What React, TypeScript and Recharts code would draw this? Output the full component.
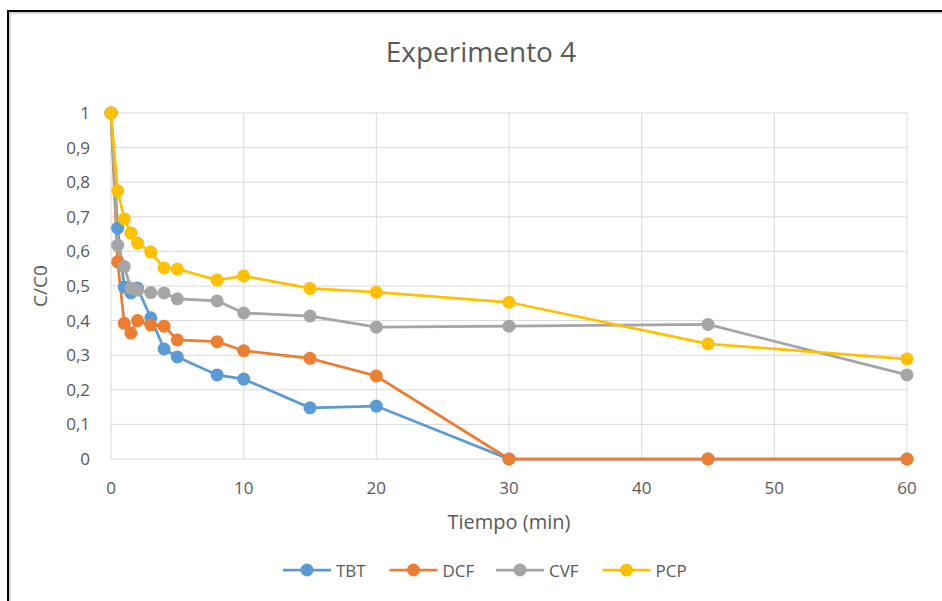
import React from 'react';
import { LineChart, Line, XAxis, YAxis, CartesianGrid } from 'recharts';

const times = [0, 0.5, 1, 1.5, 2, 3, 4, 5, 8, 10, 15, 20, 30, 45, 60];
const tbt = [1, 0.667, 0.497, 0.48, 0.494, 0.408, 0.318, 0.295, 0.243, 0.231, 0.148, 0.153, 0, 0, 0];
const dcf = [1, 0.57, 0.392, 0.364, 0.4, 0.387, 0.384, 0.344, 0.339, 0.313, 0.291, 0.24, 0, 0, 0];
const cvf = [1, 0.618, 0.556, 0.494, 0.488, 0.481, 0.48, 0.463, 0.457, 0.422, 0.413, 0.381, 0.384, 0.389, 0.243];
const pcp = [1, 0.775, 0.694, 0.653, 0.624, 0.598, 0.552, 0.549, 0.517, 0.529, 0.493, 0.482, 0.453, 0.333, 0.289];

const seriesNames = ['TBT', 'DCF', 'CVF', 'PCP'];
const seriesColors = ['#5B9BD5', '#ED7D31', '#A5A5A5', '#FFC000'];
const seriesValues = [tbt, dcf, cvf, pcp];

const xTicks = [0, 10, 20, 30, 40, 50, 60];
const yTicks = [0, 0.1, 0.2, 0.3, 0.4, 0.5, 0.6, 0.7, 0.8, 0.9, 1];

const titleText = 'Experimento 4';
const xLabel = 'Tiempo (min)';
const yLabel = 'C/C0';

const data = times.map((t, i) => {
  const row: Record<string, number> = { t };
  seriesNames.forEach((n, k) => {
    row[n] = seriesValues[k][i];
  });
  return row;
});

const FONT = '"Open Sans", "DejaVu Sans", sans-serif';
const TEXT = '#595959';

const fmtY = (v: number) => String(Math.round(v * 10) / 10).replace('.', ',');

export default function App() {
  return (
    <div style={{ position: 'fixed', left: 0, top: 0, width: 942, height: 601, overflow: 'hidden', background: '#fff', fontFamily: FONT }}>
      <div
        style={{
          position: 'absolute',
          left: 7,
          top: 10,
          width: 960,
          height: 620,
          borderLeft: '2px solid #000',
          borderTop: '2px solid #000',
          boxShadow: 'inset 2px 2px 0 #d6d6d6',
        }}
      />
      <div style={{ position: 'absolute', left: 0, top: 0 }}>
        <LineChart
          width={942}
          height={601}
          data={data}
          margin={{ top: 113, right: 35, bottom: 112, left: 41 }}
          style={{ fontFamily: FONT }}
        >
          <CartesianGrid stroke="#D9D9D9" strokeWidth={1} />
          <XAxis
            dataKey="t"
            type="number"
            domain={[0, 60]}
            ticks={xTicks}
            interval={0}
            height={30}
            tickLine={false}
            tickSize={0}
            tickMargin={23}
            axisLine={false}
            tick={{ fill: TEXT, fontSize: 17, fontFamily: FONT }}
            label={{ value: xLabel, position: 'bottom', offset: 26, fill: TEXT, fontSize: 20, fontFamily: FONT }}
          />
          <YAxis
            type="number"
            domain={[0, 1]}
            ticks={yTicks}
            interval={0}
            width={70}
            tickLine={false}
            axisLine={false}
            tickSize={0}
            tickMargin={21}
            tickFormatter={fmtY}
            tick={{ fill: TEXT, fontSize: 17, fontFamily: FONT }}
            label={{
              content: (p: any) => {
                const vb = p.viewBox || { x: 41, y: 113, width: 70, height: 346 };
                const cx = vb.x - 1.5;
                const cy = vb.y + vb.height / 2;
                return (
                  <text
                    x={cx}
                    y={cy}
                    transform={`rotate(-90 ${cx} ${cy})`}
                    textAnchor="middle"
                    dominantBaseline="central"
                    fill={TEXT}
                    fontSize={19}
                    fontFamily={FONT}
                  >
                    {yLabel}
                  </text>
                );
              },
            }}
          />
          {seriesNames.map((n, k) => (
            <Line
              key={n}
              type="linear"
              dataKey={n}
              stroke={seriesColors[k]}
              strokeWidth={2.75}
              dot={{ r: 6.5, fill: seriesColors[k], stroke: seriesColors[k], strokeWidth: 0 }}
              activeDot={false}
              isAnimationActive={false}
            />
          ))}
        </LineChart>
      </div>
      <svg width={942} height={601} style={{ position: 'absolute', left: 0, top: 0, pointerEvents: 'none' }}>
        <text x={481} y={62} textAnchor="middle" fill={TEXT} fontSize={28} fontFamily={FONT}>
          {titleText}
        </text>
        {seriesNames.map((n, k) => {
          const x0 = 283 + k * 106.5;
          const y = 570;
          return (
            <g key={n}>
              <line x1={x0} y1={y} x2={x0 + 48} y2={y} stroke={seriesColors[k]} strokeWidth={2.75} />
              <circle cx={x0 + 24} cy={y} r={6.5} fill={seriesColors[k]} />
              <text x={x0 + 53} y={y} dominantBaseline="central" fill={TEXT} fontSize={17} fontFamily={FONT}>
                {n}
              </text>
            </g>
          );
        })}
      </svg>
    </div>
  );
}
